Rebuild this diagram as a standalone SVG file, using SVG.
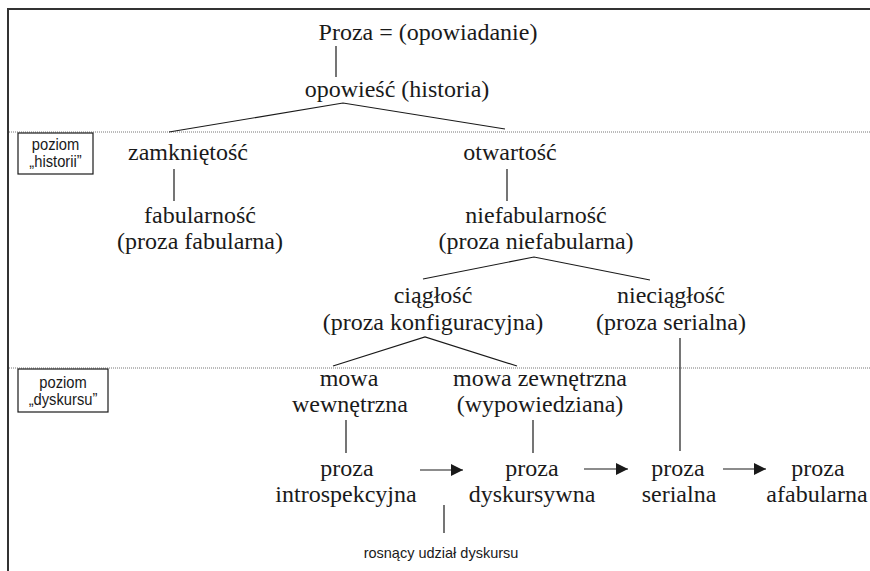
<svg xmlns="http://www.w3.org/2000/svg" width="870" height="571" viewBox="0 0 870 571">
<style>
.t{font-family:"Liberation Serif","Times New Roman",serif;font-size:24px;fill:#1a1a1a;text-anchor:middle}
.s{font-family:"Liberation Sans",Arial,sans-serif;font-size:16px;fill:#1a1a1a;text-anchor:middle}
.c{stroke:#1a1a1a;stroke-width:1.2;fill:none}
.d{stroke:#777;stroke-width:1;stroke-dasharray:1 1;fill:none}
.b{stroke:#1a1a1a;stroke-width:1.2;fill:#fff}
</style>
<defs>
<marker id="ah" markerWidth="12" markerHeight="12" refX="12" refY="6" orient="auto" markerUnits="userSpaceOnUse">
<path d="M0,0 L12,6 L0,12 Z" fill="#1a1a1a"/>
</marker>
</defs>
<rect width="870" height="571" fill="#fff"/>
<g id="frame">
<path d="M8,571 V9 H870" stroke="#333" stroke-width="2" fill="none"/>
<path class="d" d="M9,132 H870"/>
<path class="d" d="M9,368 H870"/>
</g>
<g id="level-historii">
<rect class="b" x="18" y="133" width="75" height="41"/>
<g transform="translate(55.5,0) scale(0.92,1)">
<text class="s" x="0" y="150">poziom</text>
<text class="s" x="0" y="167">„historii”</text>
</g>
</g>
<g id="level-dyskursu">
<rect class="b" x="18" y="369" width="90" height="43"/>
<g transform="translate(63,0) scale(0.92,1)">
<text class="s" x="0" y="388">poziom</text>
<text class="s" x="0" y="405">„dyskursu”</text>
</g>
</g>
<g id="connectors">
<line class="c" x1="336" y1="46" x2="336" y2="77"/>
<polyline class="c" points="169,132 343,103 505,129"/>
<line class="c" x1="174" y1="169" x2="174" y2="201"/>
<line class="c" x1="507" y1="169" x2="507" y2="201"/>
<polyline class="c" points="423,279 534,257 650,280"/>
<polyline class="c" points="333,366 425,337 517,366"/>
<line class="c" x1="680" y1="338" x2="680" y2="451"/>
<line class="c" x1="346" y1="420" x2="346" y2="453"/>
<line class="c" x1="533" y1="420" x2="533" y2="453"/>
<line class="c" x1="420" y1="470" x2="463" y2="470" marker-end="url(#ah)"/>
<line class="c" x1="584" y1="469" x2="628" y2="469" marker-end="url(#ah)"/>
<line class="c" x1="723" y1="469" x2="766" y2="469" marker-end="url(#ah)"/>
<line class="c" x1="444" y1="505" x2="444" y2="533"/>
</g>
<g id="proza"><text class="t" x="428" y="40">Proza = (opowiadanie)</text></g>
<g id="opowiesc"><text class="t" x="397" y="97">opowieść (historia)</text></g>
<g id="zamknietosc"><text class="t" x="188" y="160">zamkniętość</text></g>
<g id="otwartosc"><text class="t" x="510" y="160">otwartość</text></g>
<g id="fabularnosc"><text class="t" x="200" y="223">fabularność</text><text class="t" x="200" y="249">(proza fabularna)</text></g>
<g id="niefabularnosc"><text class="t" x="536" y="223">niefabularność</text><text class="t" x="536" y="249">(proza niefabularna)</text></g>
<g id="ciaglosc"><text class="t" x="433" y="303">ciągłość</text><text class="t" x="433" y="330">(proza konfiguracyjna)</text></g>
<g id="nieciaglosc"><text class="t" x="671" y="303">nieciągłość</text><text class="t" x="671" y="330">(proza serialna)</text></g>
<g id="mowa-wewnetrzna"><text class="t" x="349" y="386">mowa</text><text class="t" x="350" y="412">wewnętrzna</text></g>
<g id="mowa-zewnetrzna"><text class="t" x="540" y="386">mowa zewnętrzna</text><text class="t" x="540" y="412">(wypowiedziana)</text></g>
<g id="introspekcyjna"><text class="t" x="347" y="476">proza</text><text class="t" x="346" y="502">introspekcyjna</text></g>
<g id="dyskursywna"><text class="t" x="532" y="476">proza</text><text class="t" x="532" y="502">dyskursywna</text></g>
<g id="serialna"><text class="t" x="678" y="476">proza</text><text class="t" x="679" y="502">serialna</text></g>
<g id="afabularna"><text class="t" x="818" y="476">proza</text><text class="t" x="817" y="502">afabularna</text></g>
<g id="udzial"><text class="s" x="441" y="558" style="font-size:14.5px">rosnący udział dyskursu</text></g>
</svg>
